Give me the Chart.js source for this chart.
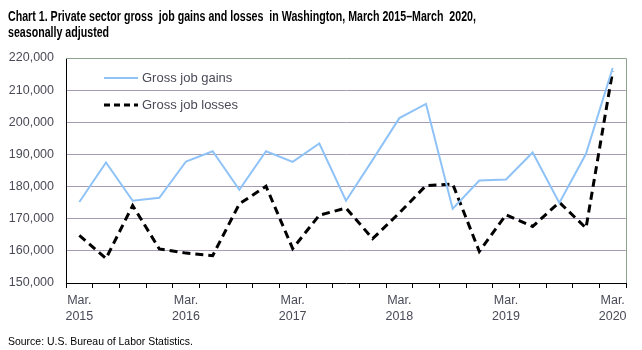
<!DOCTYPE html>
<html>
<head>
<meta charset="utf-8" />
<title>Gross job gains and losses, Washington</title>
<script src="https://cdn.jsdelivr.net/npm/chart.js"></script>
<style>
  body { margin: 0; background: #fff; }
  .wrap { position: relative; width: 642px; height: 350px; }
  .titulo {
    position: absolute; left: 8px; top: 8px;
    font-family: 'Liberation Sans', Arial, sans-serif;
    font-weight: bold; font-size: 14px; line-height: 16px; color: #000;
    white-space: nowrap;
    transform: scaleX(0.76); transform-origin: left top;
  }
  .fuente {
    position: absolute; left: 8px; top: 335px;
    font-family: 'Liberation Sans', Arial, sans-serif;
    font-size: 11.5px; color: #000; white-space: nowrap;
    transform: scaleX(0.91); transform-origin: left top;
  }
</style>
</head>
<body>
<div class="wrap">
  <canvas id="grafico" width="642" height="350"></canvas>
  <div class="titulo">Chart 1. Private sector gross&nbsp; job gains and losses&nbsp; in Washington, March 2015–March&nbsp; 2020,<br>seasonally adjusted</div>
  <div class="fuente">Source: U.S. Bureau of Labor Statistics.</div>
</div>

<script>
  // Trimestres, marzo 2015 - marzo 2020
  const categorias = [
    ['Mar.', '2015'], '', '', '',
    ['Mar.', '2016'], '', '', '',
    ['Mar.', '2017'], '', '', '',
    ['Mar.', '2018'], '', '', '',
    ['Mar.', '2019'], '', '', '',
    ['Mar.', '2020']
  ];

  const ganancias = [175200, 187500, 175600, 176500, 187800, 191000, 179000, 191000, 187700, 193400,
    175600, 188300, 201300, 205700, 173100, 181900, 182200, 190600, 174900, 190200, 216900];

  const perdidas = [164800, 157600, 174100, 160600, 159300, 158500, 174600, 180100, 160700, 171100,
    173300, 163800, 171800, 180300, 180800, 159800, 171200, 167600, 175100, 167100, 215900];

  const ticksY = [150000, 160000, 170000, 180000, 190000, 200000, 210000, 220000];

  const fuente = "'Liberation Sans', Arial, sans-serif";
  const colorTexto = '#4a4a58';

  // Leyenda dentro del area y marco del grafico
  const leyendaPlugin = {
    id: 'leyenda',
    afterDraw(chart) {
      const ctx = chart.ctx;
      const a = chart.chartArea;
      ctx.save();
      // marco superior y derecho
      ctx.strokeStyle = '#8ea08e';
      ctx.lineWidth = 1;
      ctx.beginPath();
      ctx.moveTo(a.left, a.top + 0.5);
      ctx.lineTo(a.right + 0.5, a.top + 0.5);
      ctx.lineTo(a.right + 0.5, a.bottom);
      ctx.stroke();

      const items = [
        { texto: 'Gross job gains', color: '#8fc3f7', ancho: 2, dash: [], y: 78 },
        { texto: 'Gross job losses', color: '#000', ancho: 3, dash: [6, 4], y: 105 }
      ];
      ctx.font = '13px ' + fuente;
      ctx.textBaseline = 'middle';
      items.forEach(it => {
        ctx.strokeStyle = it.color;
        ctx.lineWidth = it.ancho;
        ctx.setLineDash(it.dash);
        ctx.beginPath();
        ctx.moveTo(104, it.y);
        ctx.lineTo(138, it.y);
        ctx.stroke();
        ctx.fillStyle = colorTexto;
        ctx.fillText(it.texto, 142, it.y);
      });
      ctx.restore();
    }
  };

  const ctx = document.getElementById('grafico').getContext('2d');
  const grafico = new Chart(ctx, {
    type: 'line',
    data: {
      labels: categorias,
      datasets: [{
        label: 'Gross job gains',
        data: ganancias,
        borderColor: '#8fc3f7',
        borderWidth: 2,
        pointRadius: 0,
        tension: 0,
        fill: false
      }, {
        label: 'Gross job losses',
        data: perdidas,
        borderColor: '#000000',
        borderWidth: 3,
        borderDash: [8, 5],
        pointRadius: 0,
        tension: 0,
        fill: false
      }]
    },
    options: {
      responsive: false,
      animation: false,
      layout: {
        padding: { top: 58, right: 16, bottom: 22, left: 0 }
      },
      plugins: {
        legend: { display: false },
        tooltip: { enabled: false }
      },
      scales: {
        x: {
          offset: true,
          afterFit(scale) { scale.height = 45; },
          grid: {
            offset: true,
            drawOnChartArea: false,
            drawTicks: true,
            tickLength: 5,
            color: '#000'
          },
          border: { color: '#000', width: 1 },
          ticks: {
            autoSkip: false,
            maxRotation: 0,
            padding: 4,
            color: colorTexto,
            font: { family: fuente, size: 12.5, lineHeight: 1.3 }
          }
        },
        y: {
          min: 150000,
          max: 220000,
          afterFit(scale) { scale.width = 66; },
          afterBuildTicks(scale) {
            scale.ticks = ticksY.map(v => ({ value: v }));
          },
          grid: {
            drawTicks: false,
            color: ctx => (ctx.tick && (ctx.tick.value === 150000 || ctx.tick.value === 220000)) ? 'rgba(0,0,0,0)' : '#a89cb4'
          },
          border: { color: '#000', width: 1 },
          ticks: {
            padding: 12,
            color: colorTexto,
            font: { family: fuente, size: 12.5 },
            callback: v => v.toLocaleString('en-US')
          }
        }
      }
    },
    plugins: [leyendaPlugin]
  });
</script>
</body>
</html>
